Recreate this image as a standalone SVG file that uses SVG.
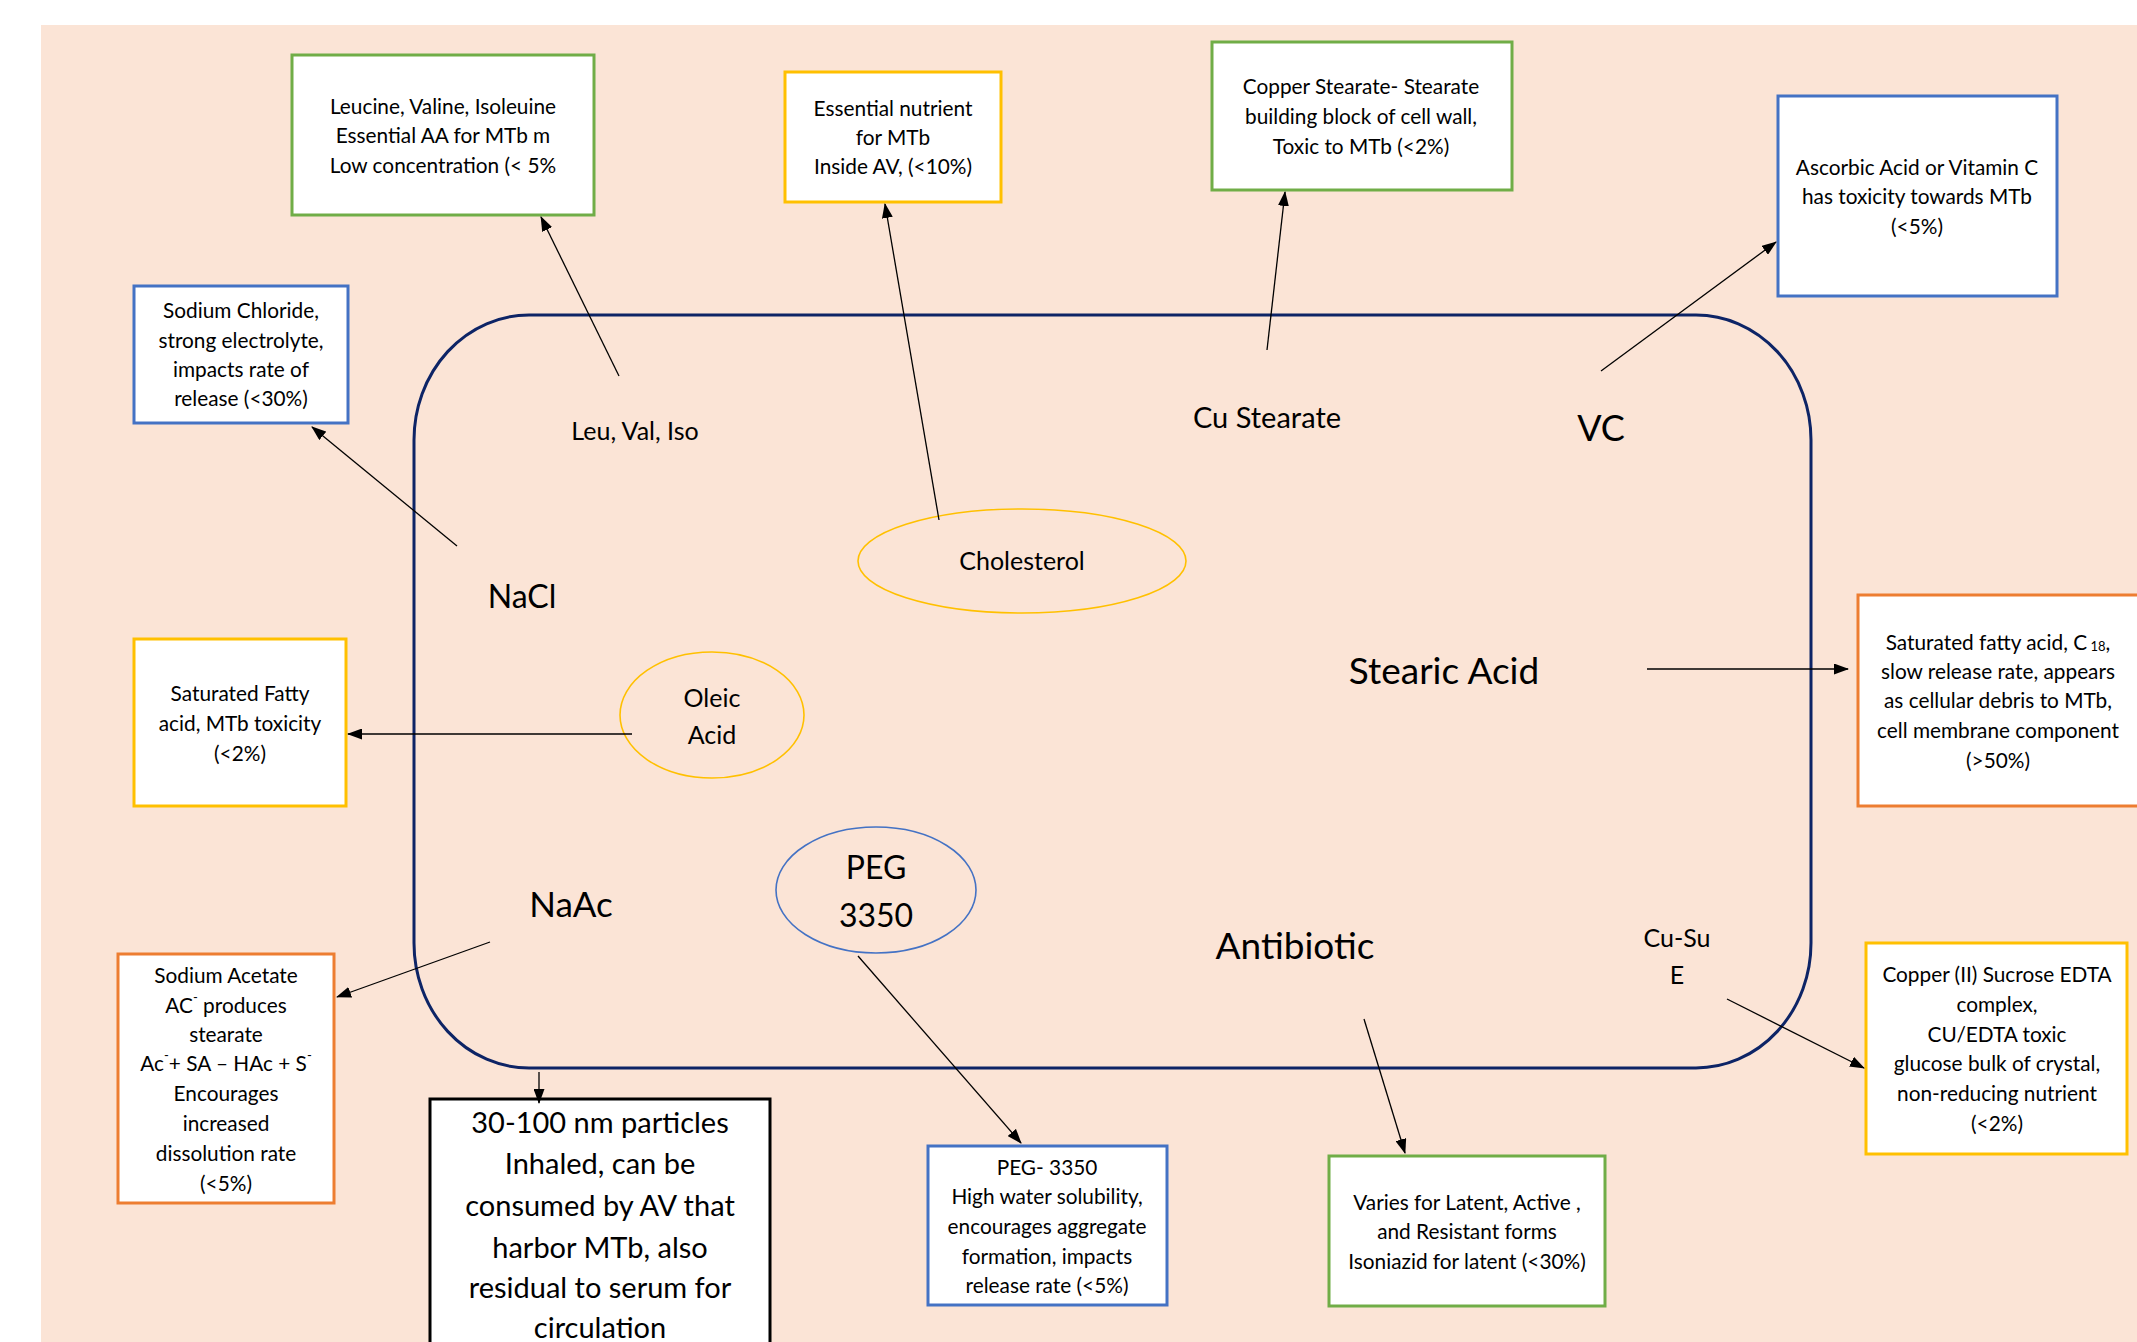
<svg xmlns="http://www.w3.org/2000/svg" width="2137" height="1342" viewBox="0 0 2137 1342">
<defs>
<marker id="ah" markerUnits="userSpaceOnUse" markerWidth="15" markerHeight="11" refX="14" refY="5.5" orient="auto">
<path d="M0,0 L15,5.5 L0,11 z" fill="#000"/>
</marker>
<style>
text{font-family:Lato,"Liberation Sans",sans-serif;fill:#000;text-anchor:middle;dominant-baseline:central}
.bx{fill:#fff;stroke-width:3}
.g{stroke:#70AD47}.y{stroke:#FFC000}.b{stroke:#4472C4}.o{stroke:#ED7D31}.k{stroke:#000}
.t{font-size:20.8px}
.lbl{font-size:25px}
.big{font-size:37px}
.ell{fill:none;stroke-width:1.6}
.c{stroke:#000;stroke-width:1.3;fill:none;marker-end:url(#ah)}
</style>
</defs>
<rect x="0" y="0" width="2137" height="1342" fill="#fff"/>
<rect x="41" y="25" width="2096" height="1317" fill="#FBE4D6"/>

<g id="main">
<path d="M529,315 H1696 A115,125 0 0 1 1811,440 V943 A115,125 0 0 1 1696,1068 H529 A115,125 0 0 1 414,943 V440 A115,125 0 0 1 529,315 Z" fill="none" stroke="#0D2466" stroke-width="3"/>
</g>

<g id="leu-label"><text x="635" y="430" class="lbl">Leu, Val, Iso</text></g>
<g id="nacl-label"><text x="522" y="595" style="font-size:32px">NaCl</text></g>
<g id="naac-label"><text x="571" y="903" style="font-size:35px">NaAc</text></g>
<g id="custearate-label"><text x="1267" y="416" style="font-size:29px">Cu Stearate</text></g>
<g id="vc-label"><text x="1601" y="427" style="font-size:36px">VC</text></g>
<g id="stearic-label"><text x="1444" y="669" class="big">Stearic Acid</text></g>
<g id="antibiotic-label"><text x="1295" y="944" class="big">Antibiotic</text></g>
<g id="cusu-label"><text x="1677" y="937" class="lbl">Cu-Su</text><text x="1677" y="974" class="lbl">E</text></g>

<g id="cholesterol">
<ellipse cx="1022" cy="561" rx="164" ry="52" class="ell" stroke="#FFC000"/>
<text x="1022" y="560" class="lbl">Cholesterol</text>
</g>
<g id="oleic">
<ellipse cx="712" cy="715" rx="92" ry="63" class="ell" stroke="#FFC000"/>
<text x="712" y="697" class="lbl">Oleic</text>
<text x="712" y="734" class="lbl">Acid</text>
</g>
<g id="peg">
<ellipse cx="876" cy="890" rx="100" ry="63" class="ell" stroke="#4472C4"/>
<text x="876" y="866" style="font-size:32px">PEG</text>
<text x="876" y="914" style="font-size:32px">3350</text>
</g>

<g id="box-leucine">
<rect x="292" y="55" width="302" height="160" class="bx g"/>
<text class="t" x="443" y="105">Leucine, Valine, Isoleuine</text>
<text class="t" x="443" y="134">Essential AA for MTb m</text>
<text class="t" x="443" y="164">Low concentration (&lt; 5%</text>
</g>
<g id="box-nutrient">
<rect x="785" y="72" width="216" height="130" class="bx y"/>
<text class="t" x="893" y="107">Essential nutrient</text>
<text class="t" x="893" y="136">for MTb</text>
<text class="t" x="893" y="165">Inside AV, (&lt;10%)</text>
</g>
<g id="box-nacl">
<rect x="134" y="286" width="214" height="137" class="bx b"/>
<text class="t" x="241" y="309">Sodium Chloride,</text>
<text class="t" x="241" y="339">strong electrolyte,</text>
<text class="t" x="241" y="368">impacts rate of</text>
<text class="t" x="241" y="397">release (&lt;30%)</text>
</g>
<g id="box-custearate">
<rect x="1212" y="42" width="300" height="148" class="bx g"/>
<text class="t" x="1361" y="85">Copper Stearate- Stearate</text>
<text class="t" x="1361" y="115">building block of cell wall,</text>
<text class="t" x="1361" y="145">Toxic to MTb (&lt;2%)</text>
</g>
<g id="box-ascorbic">
<rect x="1778" y="96" width="279" height="200" class="bx b"/>
<text class="t" x="1917" y="166">Ascorbic Acid or Vitamin C</text>
<text class="t" x="1917" y="195">has toxicity towards MTb</text>
<text class="t" x="1917" y="225">(&lt;5%)</text>
</g>
<g id="box-oleic">
<rect x="134" y="639" width="212" height="167" class="bx y"/>
<text class="t" x="240" y="692">Saturated Fatty</text>
<text class="t" x="240" y="722">acid, MTb toxicity</text>
<text class="t" x="240" y="752">(&lt;2%)</text>
</g>
<g id="box-stearic">
<rect x="1858" y="595" width="285" height="211" class="bx o"/>
<text class="t" x="1998" y="641">Saturated fatty acid, C<tspan style="font-size:13px" dy="5"> 18</tspan><tspan dy="-5">,</tspan></text>
<text class="t" x="1998" y="670">slow release rate, appears</text>
<text class="t" x="1998" y="699">as cellular debris to MTb,</text>
<text class="t" x="1998" y="729">cell membrane component</text>
<text class="t" x="1998" y="759">(&gt;50%)</text>
</g>
<g id="box-naac">
<rect x="118" y="954" width="216" height="249" class="bx o"/>
<text class="t" x="226" y="974">Sodium Acetate</text>
<text class="t" x="226" y="1004">AC<tspan style="font-size:13px" dy="-7">-</tspan><tspan dy="7"> produces</tspan></text>
<text class="t" x="226" y="1033">stearate</text>
<text class="t" x="226" y="1062">Ac<tspan style="font-size:13px" dy="-7">-</tspan><tspan dy="7">+ SA – HAc + S</tspan><tspan style="font-size:13px" dy="-7">-</tspan></text>
<text class="t" x="226" y="1092">Encourages</text>
<text class="t" x="226" y="1122">increased</text>
<text class="t" x="226" y="1152">dissolution rate</text>
<text class="t" x="226" y="1182">(&lt;5%)</text>
</g>
<g id="box-particles">
<rect x="430" y="1099" width="340" height="260" class="bx k"/>
<text x="600" y="1121" style="font-size:29px">30-100 nm particles</text>
<text x="600" y="1162" style="font-size:29px">Inhaled, can be</text>
<text x="600" y="1204" style="font-size:29px">consumed by AV that</text>
<text x="600" y="1246" style="font-size:29px">harbor MTb, also</text>
<text x="600" y="1286" style="font-size:29px">residual to serum for</text>
<text x="600" y="1326" style="font-size:29px">circulation</text>
</g>
<g id="box-peg">
<rect x="928" y="1146" width="239" height="159" class="bx b"/>
<text class="t" x="1047" y="1166">PEG- 3350</text>
<text class="t" x="1047" y="1195">High water solubility,</text>
<text class="t" x="1047" y="1225">encourages aggregate</text>
<text class="t" x="1047" y="1255">formation, impacts</text>
<text class="t" x="1047" y="1284">release rate (&lt;5%)</text>
</g>
<g id="box-antibiotic">
<rect x="1329" y="1156" width="276" height="150" class="bx g"/>
<text class="t" x="1467" y="1201">Varies for Latent, Active ,</text>
<text class="t" x="1467" y="1230">and Resistant forms</text>
<text class="t" x="1467" y="1260">Isoniazid for latent (&lt;30%)</text>
</g>
<g id="box-cusu">
<rect x="1866" y="943" width="261" height="211" class="bx y"/>
<text class="t" x="1997" y="973">Copper (II) Sucrose EDTA</text>
<text class="t" x="1997" y="1003">complex,</text>
<text class="t" x="1997" y="1033">CU/EDTA toxic</text>
<text class="t" x="1997" y="1062">glucose bulk of crystal,</text>
<text class="t" x="1997" y="1092">non-reducing nutrient</text>
<text class="t" x="1997" y="1122">(&lt;2%)</text>
</g>

<g id="connectors">
<line class="c" x1="619" y1="376" x2="541" y2="217"/>
<line class="c" x1="939" y1="520" x2="885" y2="204"/>
<line class="c" x1="457" y1="546" x2="312" y2="427"/>
<line class="c" x1="1267" y1="350" x2="1285" y2="192"/>
<line class="c" x1="1601" y1="371" x2="1776" y2="242"/>
<line class="c" x1="632" y1="734" x2="348" y2="734"/>
<line class="c" x1="1647" y1="669" x2="1848" y2="669"/>
<line class="c" x1="490" y1="942" x2="337" y2="997"/>
<line class="c" x1="539" y1="1072" x2="539" y2="1103"/>
<line class="c" x1="858" y1="956" x2="1021" y2="1143"/>
<line class="c" x1="1364" y1="1019" x2="1405" y2="1153"/>
<line class="c" x1="1727" y1="999" x2="1864" y2="1068"/>
</g>
</svg>
